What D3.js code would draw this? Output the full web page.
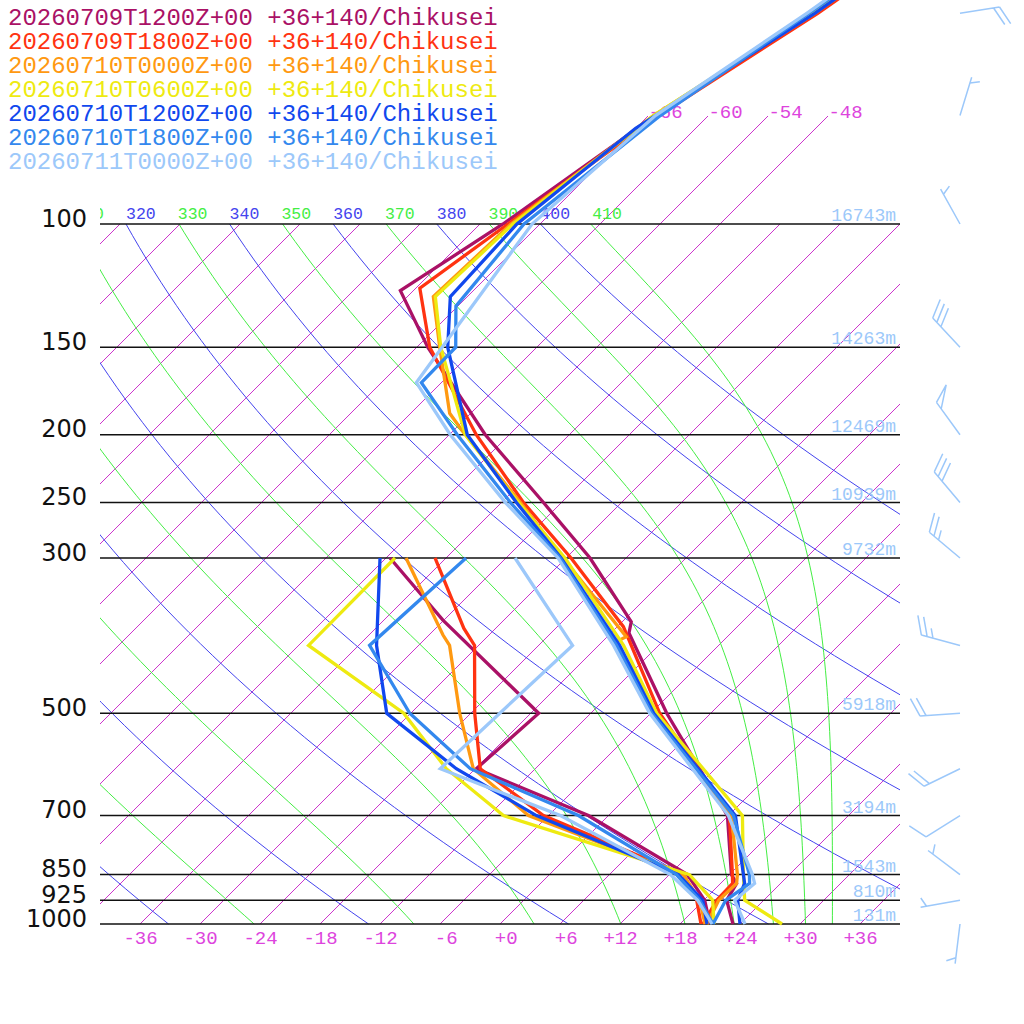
<!DOCTYPE html>
<html>
<head>
<meta charset="utf-8">
<script src="https://cdn.jsdelivr.net/npm/d3@7"></script>
<style>
html, body { margin: 0; padding: 0; background: #fff; }
svg { display: block; }
</style>
</head>
<body>
<svg id="main"></svg>
<script>
// ---- data ----
var runs = ['20260709T1200Z+00', '20260709T1800Z+00', '20260710T0000Z+00', '20260710T0600Z+00',
	'20260710T1200Z+00', '20260710T1800Z+00', '20260711T0000Z+00'];
var place = '+36+140/Chikusei';
var runColors = ['#aa1166', '#ff3311', '#ff9911', '#eeea11', '#1148ee', '#3388ee', '#9cc8fa'];

var pLevels = [1000, 925, 850, 700, 500, 300, 250, 200, 150, 100];
var heights = ['131m', '810m', '1543m', '3194m', '5918m', '9732m', '10939m', '12469m', '14263m', '16743m'];
var tempTicks = [-36, -30, -24, -18, -12, -6, 0, 6, 12, 18, 24, 30, 36];
var upperIsotherms = [-66, -60, -54, -48];
var dryThetas = [220, 240, 260, 280, 300, 320, 340, 360, 380, 400];
var moistThetas = [210, 230, 250, 270, 290, 310, 330, 350, 370, 390, 410];
var thetaLabels = [310, 320, 330, 340, 350, 360, 370, 380, 390, 400, 410];

// temperature profiles [hPa, degC]
var temp0 = [[1000,23.3],[925,20.3],[875,19.6],[850,18.2],[700,11.9],[500,-4.4],[384,-16.2],[370,-17.1],[300,-27.6],[250,-37.8],[200,-50.4],[150,-64.9],[124.5,-73.3],[100,-69.7],[70,-65.3],[50,-59.5],[30,-53]];
var temp1 = [[1000,20.3],[925,19.3],[875,19.2],[850,18.3],[700,12.1],[500,-5.1],[376,-17.4],[300,-29.5],[250,-39.8],[200,-51.3],[150,-64.7],[123.5,-71.6],[100,-69.2],[70,-65.0],[50,-59.3],[30,-52.5]];
var temp2 = [[1000,20.7],[925,19.5],[875,19.6],[850,18.8],[700,12.3],[500,-5.4],[395,-16.6],[388.7,-16.1],[300,-30.3],[250,-40.1],[197,-53.2],[186.4,-56.1],[150,-63.7],[127,-69.4],[100,-68.9],[70,-65.5],[50,-59.6],[30,-53]];
var temp3 = [[1000,28.2],[925,22.1],[850,19.4],[700,13.4],[500,-5.4],[400,-15.5],[300,-30.1],[250,-40.3],[200,-52.4],[150,-63.6],[127,-69.2],[100,-68.7],[70,-65.5],[50,-59.8],[30,-53]];
var temp4 = [[1000,24.0],[925,21.4],[875,20.4],[850,19.4],[700,12.7],[500,-5.7],[400,-15.9],[300,-30.5],[250,-40.5],[200,-52.2],[150,-62.9],[127,-67.7],[100,-68.3],[73,-66.0],[50,-59.6],[30,-53]];
var temp5 = [[1000,21.3],[925,20.2],[875,20.9],[850,20.0],[700,12.5],[500,-5.9],[400,-16.2],[300,-30.6],[250,-41.1],[200,-53.2],[168.5,-62.0],[150,-62.1],[131,-66.2],[100,-67.6],[70,-64.8],[50,-60.2],[30,-53.5]];
var temp6 = [[1000,24.5],[925,21.1],[875,21.4],[850,20.3],[700,12.0],[500,-6.1],[400,-16.5],[300,-30.8],[250,-41.6],[200,-53.9],[168.5,-62.5],[100,-66.8],[70,-65.3],[50,-60.4],[30,-54]];

// dew point profiles [hPa, degC]
var dew0 = [[1000,21.0],[925,18.1],[850,13.8],[700,-2.0],[600,-17.9],[500,-17.2],[368,-36.1],[300,-47.6]];
var dew1 = [[1000,20.1],[925,17.3],[850,13.4],[700,-6.5],[600,-17.5],[500,-23.6],[400,-30.4],[378,-33.2],[300,-43.1]];
var dew2 = [[1000,20.5],[925,17.6],[850,13.4],[700,-8.0],[600,-18.2],[500,-25.1],[400,-32.9],[386.5,-34.6],[300,-46.0]];
var dew3 = [[1000,21.4],[925,18.9],[850,14.0],[700,-10.5],[600,-20.9],[500,-30.7],[400,-47.0],[300,-47.1]];
var dew4 = [[1000,20.7],[925,17.9],[850,12.9],[700,-7.2],[600,-19.9],[500,-32.4],[400,-40.2],[300,-48.6]];
var dew5 = [[1000,21.3],[925,17.6],[850,12.7],[700,-3.0],[600,-18.5],[500,-30.1],[400,-40.9],[300,-40.0]];
var dew6 = [[1000,21.2],[925,17.4],[850,12.1],[700,-4.8],[600,-21.5],[400,-20.6],[300,-35.1]];

// winds of the last run
var windLevels = [1000, 925, 850, 700, 600, 500, 400, 300, 250, 200, 150, 100, 70, 50];
var windDir = [187, 260, 307, 238, 244, 266, 285, 310, 320, 324, 317, 331, 17, 81];
var windSpeed = [5, 5, 5, 10, 20, 20, 25, 25, 30, 50, 30, 5, 5, 20];

var temps = [temp0, temp1, temp2, temp3, temp4, temp5, temp6];
var dews = [dew0, dew1, dew2, dew3, dew4, dew5, dew6];

// ---- frame ----
var width = 1024, height = 1024;
var svg = d3.select('#main').attr('width', width).attr('height', height);
var mono = 'Liberation Mono, DejaVu Sans Mono, monospace';

var yP = d3.scaleLog().domain([1000, 100]).range([924, 224]);
var xT = d3.scaleLinear().domain([-40, 40]).range([100, 900]);
var skewX = (t, p) => xT(t) + (yP(1000) - yP(p));
var line = d3.line().x(d => skewX(d[1], d[0])).y(d => yP(d[0]));

svg.append('defs').append('clipPath').attr('id', 'plotclip')
	.append('rect').attr('x', 100).attr('y', -10).attr('width', 800).attr('height', 940);
var grid = svg.append('g').attr('clip-path', 'url(#plotclip)');

var logSteps = (p0, p1, n) => d3.range(n + 1).map(i => p0 * Math.pow(p1 / p0, i / n));

// isotherms, a few of them carried up to 70 hPa
var isoG = grid.append('g').attr('fill', 'none').attr('stroke', '#cc33cc')
	.attr('stroke-width', 1).attr('shape-rendering', 'crispEdges');
d3.range(-114, 37, 6).forEach(function(t) {
	var pTop = upperIsotherms.indexOf(t) >= 0 ? 70 : 100;
	isoG.append('line')
		.attr('x1', skewX(t, 1000)).attr('y1', yP(1000))
		.attr('x2', skewX(t, pTop)).attr('y2', yP(pTop));
});

// dry adiabats
var dryT = (th, p) => th * Math.pow(p / 1000, 0.2857) - 273.15;
dryThetas.forEach(th => {
	grid.append('path')
		.attr('d', line(logSteps(1000, 100, 60).map(p => [p, dryT(th, p)])))
		.attr('fill', 'none').attr('stroke', '#4444ee').attr('stroke-width', 1);
});

// saturated pseudo-adiabats, labelled by theta-e (Bolton)
function thetaE(tc, p) {
	var es = 6.112 * Math.exp(17.67 * tc / (tc + 243.5));
	if (es >= p * 0.9) return Infinity;
	var r = 622 * es / (p - es);
	var tk = tc + 273.15;
	return tk * Math.pow(1000 / p, 0.2854 * (1 - 0.00028 * r)) *
		Math.exp((3.376 / tk - 0.00254) * r * (1 + 0.00081 * r));
}
function moistT(te, p) {
	var lo = -150, hi = 60;
	for (var i = 0; i < 50; i++) {
		var mid = (lo + hi) / 2;
		if (thetaE(mid, p) > te) hi = mid; else lo = mid;
	}
	return (lo + hi) / 2;
}
moistThetas.forEach(te => {
	grid.append('path')
		.attr('d', line(logSteps(1000, 100, 80).map(p => [p, moistT(te, p)])))
		.attr('fill', 'none').attr('stroke', '#44ee44').attr('stroke-width', 1);
});

// theta labels along 100 hPa
grid.selectAll('text.theta').data(thetaLabels).join('text')
	.attr('class', 'theta')
	.attr('x', d => skewX(dryT(d, 100), 100))
	.attr('y', 219)
	.attr('font-family', mono).attr('font-size', 16.5)
	.attr('fill', d => d % 20 === 0 ? '#4444ee' : '#44ee44')
	.text(d => d);

// upper isotherm labels
svg.selectAll('text.iso').data(upperIsotherms).join('text')
	.attr('class', 'iso')
	.attr('x', d => skewX(d, 70))
	.attr('y', yP(70) + 2)
	.attr('font-family', mono).attr('font-size', 19)
	.attr('fill', '#dd44dd')
	.text(d => d);

// pressure lines
svg.selectAll('line.plev').data(pLevels).join('line')
	.attr('class', 'plev')
	.attr('x1', 100).attr('x2', 900)
	.attr('y1', d => yP(d)).attr('y2', d => yP(d))
	.attr('stroke', '#111').attr('stroke-width', 1.5);

// pressure axis
var pAxis = svg.append('g').attr('transform', 'translate(100,0)')
	.call(d3.axisLeft(yP).tickValues(pLevels).tickFormat(d3.format('d')).tickSize(0).tickPadding(13));
pAxis.select('.domain').remove();
pAxis.selectAll('text').attr('dy', '0.09em')
	.attr('font-family', 'DejaVu Sans, sans-serif').attr('font-size', 24).attr('fill', '#111');

// temperature axis
var fmtT = t => (t < 0 ? '-' : '+') + Math.abs(t);
var tAxis = svg.append('g').attr('transform', 'translate(0,924)')
	.call(d3.axisBottom(xT).tickValues(tempTicks).tickFormat(t => fmtT(t).padStart(3, ' ')).tickSize(0).tickPadding(7));
tAxis.select('.domain').remove();
tAxis.selectAll('text').style('white-space', 'pre')
	.attr('font-family', mono).attr('font-size', 19).attr('fill', '#dd44dd');

// profiles
var prof = svg.append('g');
runs.forEach((r, i) => {
	[dews[i], temps[i]].forEach(series => {
		prof.append('path')
			.attr('d', line(series))
			.attr('fill', 'none')
			.attr('stroke', runColors[i])
			.attr('stroke-width', 3.3);
	});
});

// heights of the last run
svg.selectAll('text.hgt').data(pLevels).join('text')
	.attr('class', 'hgt')
	.attr('x', 896).attr('y', d => yP(d) - 3)
	.attr('text-anchor', 'end')
	.attr('font-family', mono).attr('font-size', 18)
	.attr('fill', runColors[6])
	.text((d, i) => heights[i]);

// wind barbs
function barb(g, x0, y0, dir, spd) {
	var rad = dir * Math.PI / 180;
	var ux = Math.sin(rad), uy = -Math.cos(rad);
	var px = -uy, py = ux;
	var a = 25 * Math.PI / 180;
	var fx = Math.cos(a) * px + Math.sin(a) * ux, fy = Math.cos(a) * py + Math.sin(a) * uy;
	var L = 40, step = 6;
	var at = s => [x0 + ux * s, y0 + uy * s];
	var d = `M${x0},${y0}L${at(L)}`;
	var s = Math.round(spd / 5) * 5;
	var n50 = Math.floor(s / 50); s -= n50 * 50;
	var n10 = Math.floor(s / 10); s -= n10 * 10;
	var n5 = s >= 5 ? 1 : 0;
	var pos = L;
	for (var k = 0; k < n50; k++) {
		var b = at(pos), e = at(pos - 8);
		d += `M${b}L${b[0] + fx * 20},${b[1] + fy * 20}L${e}`;
		pos -= 10;
	}
	for (k = 0; k < n10; k++) {
		b = at(pos);
		d += `M${b}L${b[0] + fx * 20},${b[1] + fy * 20}`;
		pos -= step;
	}
	if (n5) {
		if (n50 + n10 === 0) pos -= step;
		b = at(pos);
		d += `M${b}L${b[0] + fx * 10},${b[1] + fy * 10}`;
	}
	g.append('path').attr('d', d).attr('fill', 'none')
		.attr('stroke', runColors[6]).attr('stroke-width', 1.5);
}
var barbs = svg.append('g');
windLevels.forEach((p, i) => barb(barbs, 960, yP(p), windDir[i], windSpeed[i]));

// legend
svg.selectAll('text.legend').data(runs).join('text')
	.attr('class', 'legend')
	.attr('x', 8).attr('y', (d, i) => 25 + i * 24)
	.attr('font-family', mono).attr('font-size', 24)
	.attr('fill', (d, i) => runColors[i])
	.style('white-space', 'pre')
	.text(d => d + ' ' + place);
</script>
</body>
</html>
